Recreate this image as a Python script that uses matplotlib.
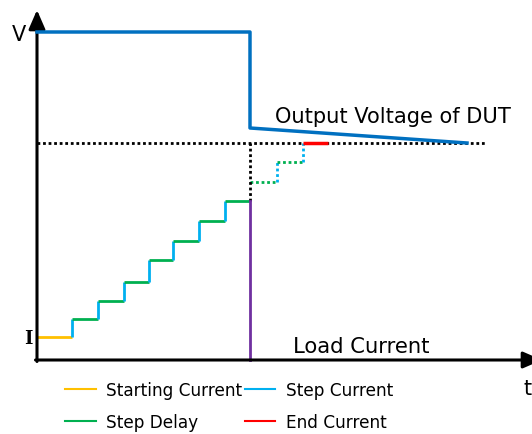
import numpy as np
import matplotlib.pyplot as plt
from matplotlib.lines import Line2D

# time / level values (arbitrary units, origin at the axes corner)
step_t = [0, 35, 61, 87, 112, 136, 162, 188, 213]
step_i = [23, 41, 59, 78, 100, 119, 139, 159]
next_t = [213, 240, 266]
next_i = [178, 198, 217]
end_t = [266, 291]
end_i = 217
volt_t = [0, 213, 213, 430]
volt_v = [328, 328, 232, 217]
ref_t = [0, 448]
t_max = 505

c_volt = '#0070C0'
c_step = '#00B0F0'
c_delay = '#00B050'
c_start = '#FFC000'
c_end = '#FF0000'
c_load = '#7030A0'

fig = plt.figure(figsize=(5.32, 4.35), dpi=100)
ax = fig.add_axes([0, 0, 1, 1])
ax.set_xlim(-37, 495)
ax.set_ylim(-74, 361)
ax.axis('off')

lw = 2.0
# starting current
ax.plot(step_t[:2], [step_i[0]] * 2, color=c_start, lw=lw, solid_capstyle='butt')
# staircase
for k in range(1, len(step_i)):
    ax.plot([step_t[k]] * 2, [step_i[k - 1], step_i[k]], color=c_step, lw=lw, solid_capstyle='butt')
    ax.plot([step_t[k], step_t[k + 1]], [step_i[k]] * 2, color=c_delay, lw=lw, solid_capstyle='butt')
# dotted continuation
for k in range(len(next_i) - 1):
    ax.plot([next_t[k], next_t[k + 1]], [next_i[k]] * 2, color=c_delay, lw=lw, ls=(0, (1, 1)))
    ax.plot([next_t[k + 1]] * 2, [next_i[k], next_i[k + 1]], color=c_step, lw=lw, ls=(0, (1, 1)))
# reference dotted lines
ax.plot(ref_t, [end_i] * 2, color='black', lw=lw, ls=(0, (1, 1)), zorder=1)
ax.plot([step_t[-1]] * 2, [step_i[-1], end_i], color='black', lw=lw, ls=(0, (1, 1)))
# end current
ax.plot(end_t, [end_i] * 2, color=c_end, lw=lw + 0.5, solid_capstyle='butt', zorder=3)
# load current release
ax.plot([step_t[-1], step_t[-1]], [step_i[-1], 0], color=c_load, lw=lw, zorder=2)
# output voltage
ax.plot(volt_t, volt_v, color=c_volt, lw=2.5, zorder=4)

# axes with arrows
arrow = dict(arrowstyle='-|>,head_width=0.5,head_length=1.15', color='black',
             lw=2.2, shrinkA=0, shrinkB=0)
ax.annotate('', xy=(0, 350), xytext=(0, -1.5), arrowprops=arrow, annotation_clip=False)
ax.annotate('', xy=(t_max, 0), xytext=(-1.5, 0), arrowprops=arrow, annotation_clip=False)

ax.text(-18, 326, 'V', fontsize=15, ha='center', va='center')
ax.text(-9, 22, 'I', fontsize=13, ha='center', va='center', family='DejaVu Serif', fontweight='bold')
ax.text(486, -28, 't', fontsize=15, ha='left', va='center')
ax.text(238, 244, 'Output Voltage of DUT', fontsize=15.1, ha='left', va='center')
ax.text(256, 14, 'Load Current', fontsize=15.2, ha='left', va='center')

handles = [Line2D([], [], color=c_start, lw=1.5), Line2D([], [], color=c_delay, lw=1.5),
           Line2D([], [], color=c_step, lw=1.5), Line2D([], [], color=c_end, lw=1.5)]
labels = ['Starting Current', 'Step Delay', 'Step Current', 'End Current']
fig.legend(handles, labels, ncol=2, frameon=False, fontsize=12.2, loc='lower left',
           bbox_to_anchor=(0.1, -0.021), handlelength=1.8, handletextpad=0.62,
           columnspacing=0.15, labelspacing=0.85, borderpad=0.2)

fig.savefig('out.png', dpi=100)
